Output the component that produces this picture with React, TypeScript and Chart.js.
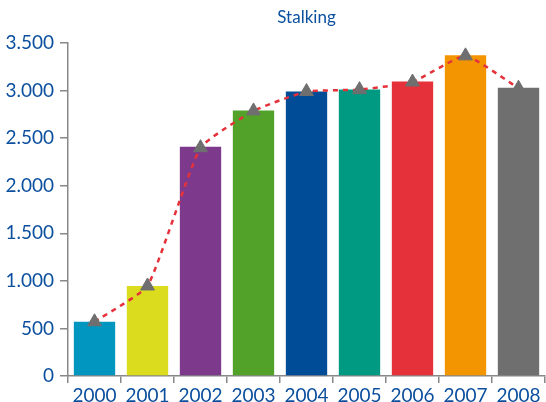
import React, { useEffect, useRef } from "react";
import { Chart, registerables } from "chart.js";

Chart.register(...registerables);

const categories = ["2000", "2001", "2002", "2003", "2004", "2005", "2006", "2007", "2008"];
const barValues = [570, 946, 2410, 2790, 2990, 3010, 3095, 3370, 3030];
const lineValues = [570, 946, 2400, 2786, 2990, 3010, 3090, 3365, 3025];
const barColors = ["#0096c0", "#dcdc1e", "#7d3a8c", "#52a22a", "#004c97", "#009982", "#e5313a", "#f39500", "#6f6f6f"];
const yTicks = [0, 500, 1000, 1500, 2000, 2500, 3000, 3500];
const title = "Stalking";

const FONT = "Lato, 'Open Sans', sans-serif";
const BLUE = "#0b4f9e";

const fmt = (v: number) => {
  const s = String(Math.round(v));
  return s.replace(/\B(?=(\d{3})+(?!\d))/g, ".");
};

const titlePlugin = {
  id: "centerTitle",
  afterDraw(chart: any) {
    const { ctx, chartArea } = chart;
    ctx.save();
    ctx.font = `17px ${FONT}`;
    ctx.fillStyle = BLUE;
    ctx.textAlign = "center";
    ctx.textBaseline = "middle";
    ctx.fillText(title, (chartArea.left + chartArea.right) / 2, 18);
    ctx.restore();
  },
};

export default function App() {
  const ref = useRef<HTMLCanvasElement>(null);
  useEffect(() => {
    if (!ref.current) return;
    const chart = new Chart(ref.current, {
      type: "bar",
      data: {
        labels: categories,
        datasets: [
          {
            type: "line",
            data: lineValues,
            borderColor: "#e5313a",
            borderWidth: 2.5,
            borderDash: [5, 5],
            tension: 0.14,
            fill: false,
            pointStyle: "triangle",
            pointRadius: 8,
            pointBackgroundColor: "#6f6f6f",
            pointBorderColor: "#6f6f6f",
            pointBorderWidth: 1,
            order: 0,
          } as any,
          {
            type: "bar",
            data: barValues,
            backgroundColor: barColors,
            barPercentage: 0.78,
            categoryPercentage: 1,
            order: 1,
          },
        ],
      },
      options: {
        animation: false,
        responsive: false,
        maintainAspectRatio: false,
        layout: { autoPadding: false, padding: { top: 43, left: 5, right: 1, bottom: 0 } },
        plugins: { legend: { display: false }, title: { display: false }, tooltip: { enabled: false } },
        scales: {
          x: {
            offset: true,
            grid: { offset: true, drawOnChartArea: false, drawTicks: true, tickLength: 7, color: "#888", lineWidth: 1.5 },
            border: { color: "#888", width: 1.5 },
            ticks: { color: BLUE, font: { family: FONT, size: 19 }, padding: 1, maxRotation: 0 },
            afterFit: (s: any) => {
              s.height = 26;
              s.paddingLeft = 0;
              s.paddingRight = 0;
            },
          },
          y: {
            min: 0,
            max: 3500,
            afterBuildTicks: (axis: any) => {
              axis.ticks = yTicks.map((v) => ({ value: v }));
            },
            grid: { drawOnChartArea: false, drawTicks: true, tickLength: 8, color: "#888", lineWidth: 1.5 },
            border: { color: "#888", width: 1.5 },
            ticks: { color: BLUE, font: { family: FONT, size: 19 }, padding: 6, callback: (v: any) => fmt(Number(v)) },
            afterFit: (s: any) => {
              s.width = 63;
              s.paddingTop = 0;
              s.paddingBottom = 0;
            },
          },
        },
      },
      plugins: [titlePlugin],
    });
    return () => chart.destroy();
  }, []);
  return (
    <div style={{ position: "absolute", left: 0, top: 0, width: 546, height: 402, background: "#fff" }}>
      <canvas ref={ref} width={546} height={402} style={{ width: 546, height: 402 }} />
    </div>
  );
}
